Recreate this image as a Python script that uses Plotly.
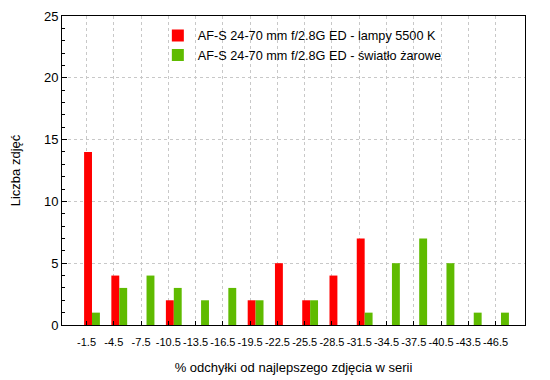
import plotly.graph_objects as go

categories = ["-1.5", "-4.5", "-7.5", "-10.5", "-13.5", "-16.5", "-19.5", "-22.5",
              "-25.5", "-28.5", "-31.5", "-34.5", "-37.5", "-40.5", "-43.5", "-46.5"]
lampy = [14, 4, 0, 2, 0, 0, 2, 5, 2, 4, 7, 0, 0, 0, 0, 0]
zarowe = [1, 3, 4, 3, 2, 3, 2, 0, 2, 0, 1, 5, 7, 5, 1, 1]
name_red = "AF-S 24-70 mm f/2.8G ED - lampy 5500 K"
name_green = "AF-S 24-70 mm f/2.8G ED - światło żarowe"

idx = list(range(len(categories)))
fig = go.Figure()
fig.add_trace(go.Bar(x=idx, y=lampy, name=name_red, marker_color="#FF0000", marker_line_width=0))
fig.add_trace(go.Bar(x=idx, y=zarowe, name=name_green, marker_color="#5FBB00", marker_line_width=0))

font = "Liberation Sans, Arial, sans-serif"
# page body has an 8px default margin, so the figure is made 8px smaller
fig.update_layout(
    width=542, height=372,
    margin=dict(l=54, r=25, t=8, b=55, autoexpand=False),
    barmode="group", bargap=0.42, bargroupgap=0,
    plot_bgcolor="white", paper_bgcolor="white",
    font=dict(family=font, size=12, color="black"),
    legend=dict(x=0.207, y=0.985, xanchor="left", yanchor="top",
                bgcolor="rgba(0,0,0,0)", font=dict(size=12.7), itemwidth=30,
                tracegroupgap=0),
    showlegend=True,
)
fig.update_xaxes(
    automargin=False,
    range=[-1.1, 15.88],
    tickvals=[i - 0.2 for i in idx], ticktext=categories,
    tickfont=dict(size=11),
    ticks="inside", ticklen=4, tickcolor="black",
    ticklabelstandoff=7,
    showgrid=True, gridcolor="#c8c8c8", griddash="dot", gridwidth=1,
    showline=True, linecolor="black", linewidth=1, mirror=True,
    zeroline=False,
    title=dict(text="% odchyłki od najlepszego zdjęcia w serii", font=dict(size=13), standoff=15),
)
fig.update_yaxes(
    automargin=False,
    range=[0, 25], tickvals=[0, 5, 10, 15, 20, 25],
    tickfont=dict(size=13),
    ticks="inside", ticklen=5, tickcolor="black",
    minor=dict(dtick=1, ticks="inside", ticklen=3, tickcolor="black", showgrid=False),
    showgrid=True, gridcolor="#c8c8c8", griddash="dot", gridwidth=1,
    showline=True, linecolor="black", linewidth=1, mirror=True,
    zeroline=False,
    title=dict(text="Liczba zdjęć", font=dict(size=13), standoff=25),
)
fig.write_html("out.html")
